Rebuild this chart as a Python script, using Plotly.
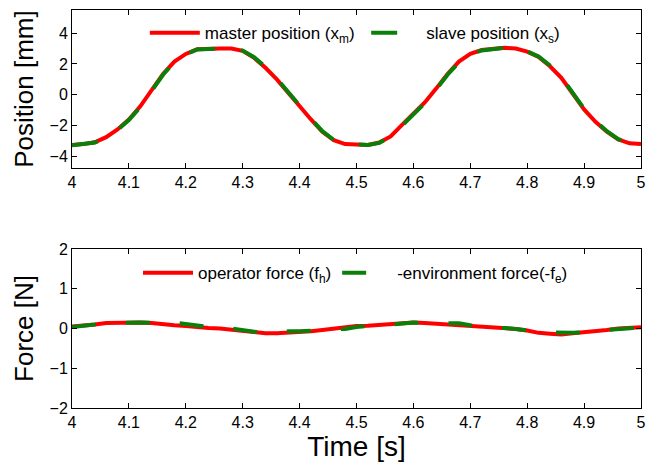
import plotly.graph_objects as go

t = [round(4.0 + 0.02 * i, 2) for i in range(51)]

master_pos = [-3.25, -3.2, -3.08, -2.75, -2.25, -1.6, -0.75, 0.3, 1.35, 2.15,
              2.65, 2.95, 3.0, 3.0, 3.0, 2.85, 2.4, 1.75, 1.0, 0.1,
              -0.8, -1.6, -2.4, -2.95, -3.2, -3.25, -3.25, -3.1, -2.7, -1.95,
              -1.2, -0.5, 0.4, 1.35, 2.15, 2.65, 2.9, 3.0, 3.05, 3.0,
              2.8, 2.45, 1.85, 1.1, 0.1, -0.95, -1.75, -2.4, -2.9, -3.15, -3.2]
slave_pos = [-3.28, -3.22, -3.1, -2.78, -2.28, -1.64, -0.8, 0.25, 1.3, 2.12,
             2.63, 2.94, 3.0, 3.0, 3.0, 2.87, 2.44, 1.8, 1.05, 0.15,
             -0.75, -1.56, -2.36, -2.92, -3.19, -3.25, -3.25, -3.12, -2.73, -2.0,
             -1.25, -0.55, 0.35, 1.3, 2.1, 2.62, 2.88, 2.99, 3.05, 3.01,
             2.82, 2.48, 1.9, 1.15, 0.15, -0.9, -1.7, -2.36, -2.88, -3.13, -3.2]

f_h = [0.05, 0.07, 0.10, 0.14, 0.15, 0.15, 0.15, 0.14, 0.10, 0.08,
       0.06, 0.03, 0.01, 0.0, -0.03, -0.08, -0.11, -0.12, -0.12, -0.11,
       -0.09, -0.07, -0.04, 0.0, 0.04, 0.06, 0.07, 0.09, 0.12, 0.14,
       0.15, 0.14, 0.12, 0.12, 0.10, 0.08, 0.05, 0.02, 0.0, -0.01,
       -0.05, -0.11, -0.13, -0.15, -0.12, -0.10, -0.08, -0.04, 0.0, 0.02, 0.03]
f_e = [0.04, 0.06, 0.10, 0.14, 0.15, 0.15, 0.15, 0.14, 0.12, 0.15,
       0.11, 0.06, 0.02, 0.0, 0.0, -0.04, -0.10, -0.12, -0.10, -0.07,
       -0.07, -0.06, -0.05, -0.04, -0.01, 0.04, 0.07, 0.09, 0.10, 0.13,
       0.15, 0.14, 0.14, 0.14, 0.13, 0.08, 0.05, 0.04, 0.01, -0.01,
       -0.05, -0.09, -0.10, -0.11, -0.11, -0.10, -0.10, -0.04, -0.01, 0.02, 0.03]

x_ticks = [4.0, 4.1, 4.2, 4.3, 4.4, 4.5, 4.6, 4.7, 4.8, 4.9, 5.0]
x_tick_labels = ["4", "4.1", "4.2", "4.3", "4.4", "4.5", "4.6", "4.7", "4.8", "4.9", "5"]
pos_ticks = [-4, -2, 0, 2, 4]
force_ticks = [-2, -1, 0, 1, 2]

RED = "#ff0000"
GREEN = "#0a800a"
FONT = "Liberation Sans, Arial, sans-serif"

fig = go.Figure()
fig.add_trace(go.Scatter(x=t, y=master_pos, mode="lines", name="master position (x<sub>m</sub>)",
                         line=dict(color=RED, width=4), xaxis="x", yaxis="y", legend="legend"))
fig.add_trace(go.Scatter(x=t, y=slave_pos, mode="lines", name="slave position (x<sub>s</sub>)",
                         line=dict(color=GREEN, width=4, dash="26px,26px"), xaxis="x", yaxis="y", legend="legend2"))
fig.add_trace(go.Scatter(x=t, y=f_h, mode="lines", name="operator force (f<sub>h</sub>)",
                         line=dict(color=RED, width=4), xaxis="x2", yaxis="y2", legend="legend3"))
fig.add_trace(go.Scatter(x=t, y=f_e, mode="lines", name="-environment force(-f<sub>e</sub>)",
                         line=dict(color=GREEN, width=4, dash="24px,30px"), xaxis="x2", yaxis="y2", legend="legend4"))

axis_common = dict(showline=True, linecolor="black", linewidth=1, mirror="ticks",
                   ticks="inside", ticklen=5, tickcolor="black", showgrid=False, zeroline=False,
                   automargin=False,
                   tickfont=dict(family=FONT, size=16, color="black"))

legend_common = dict(orientation="h", xanchor="left", yanchor="middle",
                     bgcolor="rgba(0,0,0,0)", font=dict(size=17, family=FONT), itemwidth=50)

fig.update_layout(
    width=652, height=464,
    showlegend=True,
    margin=dict(l=72, r=11, t=10, b=56),
    paper_bgcolor="white", plot_bgcolor="white",
    font=dict(family=FONT, color="black"),
    xaxis=dict(domain=[0, 1], anchor="y", range=[4, 5], tickvals=x_ticks, ticktext=x_tick_labels, **axis_common),
    yaxis=dict(domain=[0.603, 1], anchor="x", range=[-4.75, 5.5], tickvals=pos_ticks,
               title=dict(text="Position [mm]", font=dict(size=26, family=FONT), standoff=8), **axis_common),
    xaxis2=dict(domain=[0, 1], anchor="y2", range=[4, 5], tickvals=x_ticks, ticktext=x_tick_labels,
                title=dict(text="Time [s]", font=dict(size=28, family=FONT), standoff=2), **axis_common),
    yaxis2=dict(domain=[0, 0.3995], anchor="x2", range=[-2, 2], tickvals=force_ticks,
                title=dict(text="Force [N]", font=dict(size=26, family=FONT), standoff=8), **axis_common),
    legend=dict(x=0.128, y=0.942, **legend_common),
    legend2=dict(x=0.517, y=0.942, **legend_common),
    legend3=dict(x=0.116, y=0.339, **legend_common),
    legend4=dict(x=0.466, y=0.339, **legend_common),
)

fig.write_html("out.html", post_script="document.body.style.margin='0';",
               config={"displayModeBar": False})
